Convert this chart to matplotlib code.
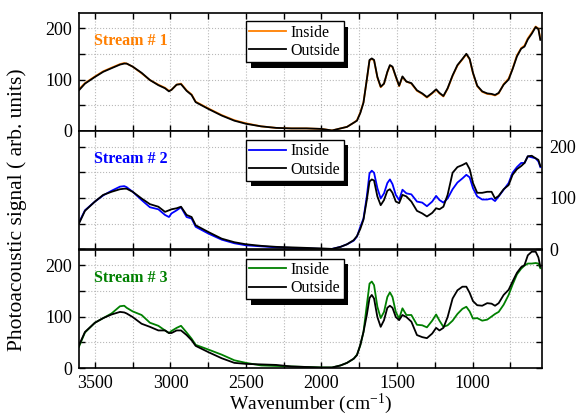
import numpy as np
import matplotlib
matplotlib.use("Agg")
import matplotlib.pyplot as plt
from matplotlib.ticker import MultipleLocator
import matplotlib.patheffects as pe

# wavenumber grid (cm-1), shared by all panels
wn = [3606, 3566, 3500, 3445, 3390, 3334, 3306, 3290, 3250, 3191, 3136, 3080,
      3036, 3010, 2993, 2959, 2930, 2893, 2860, 2833, 2750, 2661, 2577, 2500,
      2400, 2300, 2200, 2100, 2000, 1930, 1874, 1831, 1787, 1765, 1743, 1722,
      1700, 1682, 1667, 1652, 1630, 1608, 1586, 1564, 1547, 1530, 1508, 1486,
      1464, 1438, 1405, 1368, 1333, 1302, 1267, 1241, 1219, 1193, 1165, 1132,
      1100, 1067, 1041, 1019, 997, 969, 936, 903, 874, 851, 827, 794, 761, 735,
      706, 678, 656, 634, 608, 582, 564, 551]

# Stream 1
s1_inside = [81, 93, 106, 116, 123, 130, 132, 131, 125, 112, 99, 90,
             84, 78, 80, 90, 92, 79, 71, 57, 44, 31, 21, 15,
             9, 6, 5, 5, 4, 1, 5, 8, 16, 21, 36, 56,
             99, 137, 140, 137, 104, 85, 92, 114, 127, 124, 105, 87,
             105, 96, 92, 78, 72, 65, 73, 80, 73, 67, 82, 107,
             127, 139, 149, 139, 112, 87, 76, 72, 71, 69, 73, 91, 102, 121,
             147, 161, 166, 180, 191, 203, 199, 179]
s1_outside = [79, 92, 105, 115, 122, 129, 131, 131, 125, 113, 99, 89,
              83, 77, 80, 90, 91, 78, 70, 56, 43, 30, 20, 14,
              9, 6, 5, 5, 4, 1, 5, 8, 16, 20, 35, 55,
              100, 138, 141, 138, 105, 86, 92, 115, 128, 125, 106, 88,
              106, 96, 93, 79, 73, 66, 74, 81, 74, 68, 83, 108,
              128, 140, 150, 140, 113, 88, 77, 73, 72, 70, 74, 90, 100, 120,
              145, 160, 164, 178, 189, 202, 198, 177]

# Stream 2
s2_inside = [52, 76, 93, 105, 114, 122, 123, 121, 112, 96, 82, 78,
             67, 63, 70, 76, 82, 63, 60, 44, 31, 19, 12, 8,
             6, 4, 3, 2, 1, 1, 5, 10, 17, 25, 44, 60,
             103, 148, 153, 149, 119, 99, 109, 129, 136, 127, 106, 96,
             116, 109, 107, 93, 91, 84, 93, 104, 96, 91, 99, 117,
             130, 138, 145, 140, 119, 103, 97, 97, 99, 94, 103, 116, 129, 149,
             160, 168, 168, 181, 179, 177, 171, 160]
s2_outside = [50, 75, 93, 106, 112, 117, 118, 118, 112, 99, 88, 83,
              73, 76, 78, 80, 83, 67, 63, 47, 34, 21, 14, 10,
              7, 5, 4, 3, 2, 1, 5, 10, 18, 26, 40, 58,
              96, 132, 136, 134, 103, 86, 96, 114, 117, 110, 93, 90,
              106, 103, 93, 75, 70, 64, 71, 80, 78, 83, 106, 149,
              160, 164, 168, 156, 129, 110, 110, 112, 112, 99, 104, 117, 125, 145,
              156, 162, 168, 181, 182, 177, 174, 162]

# Stream 3
s3_inside = [41, 69, 88, 97, 106, 120, 121, 117, 110, 103, 88, 82,
             73, 68, 72, 78, 82, 69, 57, 45, 36, 26, 15, 10,
             5, 4, 3, 2, 1, 1, 5, 10, 18, 26, 44, 70,
             122, 164, 168, 161, 119, 97, 109, 138, 147, 138, 109, 96,
             116, 103, 103, 84, 83, 79, 92, 104, 92, 80, 83, 92,
             105, 115, 119, 110, 96, 97, 92, 94, 100, 105, 109, 123, 142, 162,
             182, 193, 199, 203, 203, 204, 203, 194]
s3_outside = [44, 70, 88, 97, 104, 109, 108, 106, 99, 86, 80, 73,
              73, 68, 68, 73, 73, 64, 54, 43, 31, 19, 10, 8,
              7, 6, 3, 2, 1, 1, 5, 10, 18, 25, 45, 70,
              103, 136, 142, 135, 99, 80, 93, 117, 121, 117, 99, 93,
              103, 99, 90, 64, 60, 58, 67, 78, 73, 78, 99, 135,
              151, 158, 158, 146, 130, 122, 121, 126, 125, 121, 126, 142, 152, 168,
              185, 196, 200, 219, 226, 226, 215, 197]

streams = ["Stream # 1", "Stream # 2", "Stream # 3"]
colors = ["#ff7f00", "#0000ff", "#008000"]
inside = [s1_inside, s2_inside, s3_inside]
outside = [s1_outside, s2_outside, s3_outside]

plt.rcParams['font.family'] = ['Liberation Serif', 'DejaVu Serif']
plt.rcParams['mathtext.fontset'] = 'custom'
plt.rcParams['mathtext.rm'] = 'Liberation Serif'
plt.rcParams['mathtext.default'] = 'regular'

fig = plt.figure(figsize=(5.76, 4.19), dpi=100)
left, width, h = 0.137, 0.804, 0.2825
bottoms = [0.6874, 0.4047, 0.1217]

axes = []
for i in range(3):
    ax = fig.add_axes([left, bottoms[i], width, h], sharex=axes[0] if axes else None)
    axes.append(ax)
    ax.plot(wn, inside[i], color=colors[i], lw=1.3, label="Inside")
    ax.plot(wn, outside[i], color="black", lw=1.3, label="Outside")
    ax.set_ylim(0, 230)
    ax.set_xlim(3606, 540)
    ax.xaxis.set_major_locator(MultipleLocator(500))
    ax.xaxis.set_minor_locator(MultipleLocator(250))
    ax.yaxis.set_major_locator(MultipleLocator(100))
    ax.yaxis.set_minor_locator(MultipleLocator(50))
    ax.grid(which='both', color='#b8b8b8', linestyle=':', linewidth=0.8)
    ax.set_axisbelow(True)
    ax.tick_params(which='both', direction='in', top=True, right=True,
                   length=4, width=1, labelsize=13, pad=5)
    for sp in ax.spines.values():
        sp.set_linewidth(1.2)
    if i == 1:
        ax.tick_params(labelleft=False, labelright=True)
    if i < 2:
        ax.tick_params(labelbottom=False)
    ax.text(0.032, 0.76, streams[i], transform=ax.transAxes, color=colors[i],
            fontsize=11.5, fontweight='bold', va='center', ha='left')
    leg = ax.legend(loc='upper left', bbox_to_anchor=(0.361, 0.925), borderaxespad=0,
                    fontsize=11.5, fancybox=False, edgecolor='black', framealpha=1,
                    handlelength=2.3, handletextpad=0.3, labelspacing=0.15,
                    borderpad=0.2)
    leg.get_frame().set_linewidth(1.0)
    leg.legendPatch.set_path_effects([
        pe.SimplePatchShadow(offset=(3.5, -4), shadow_rgbFace='black', alpha=1),
        pe.Normal()])

axes[2].set_xlabel(r"Wavenumber (cm$^{-1}$)", fontsize=14, labelpad=0)
fig.text(0.03, 0.5, "Photoacoustic signal ( arb. units)", rotation=90,
         fontsize=15.5, va='center', ha='center')

fig.savefig("out.png", dpi=100)
